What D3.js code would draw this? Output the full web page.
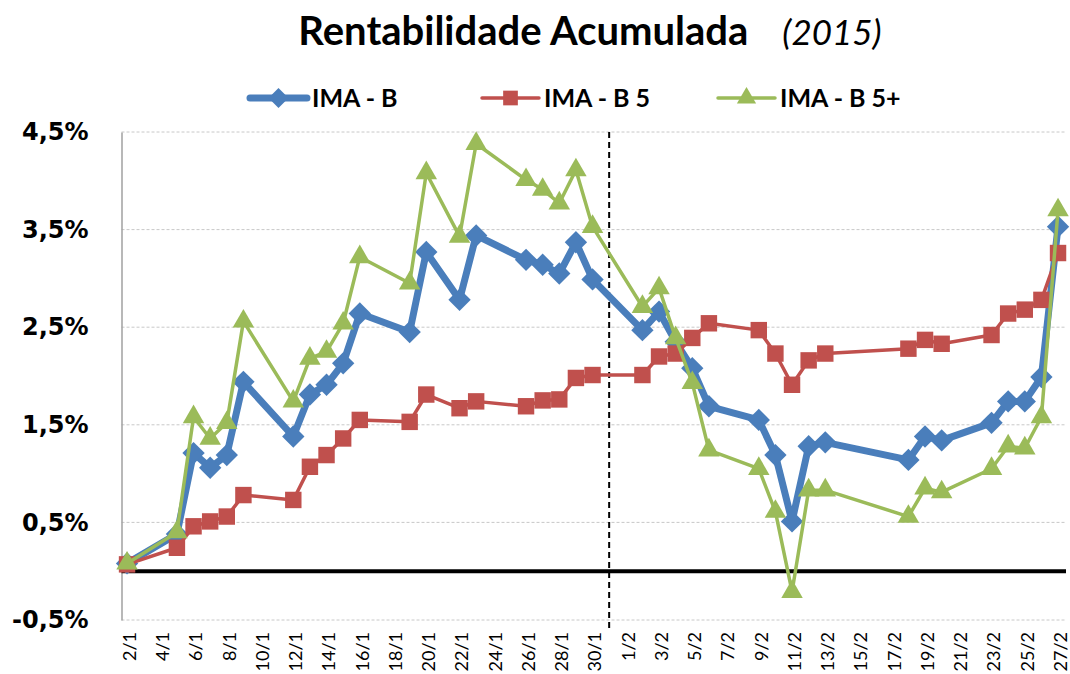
<!DOCTYPE html>
<html>
<head>
<meta charset="utf-8">
<script src="https://cdn.jsdelivr.net/npm/d3@7"></script>
<style>
  body { margin: 0; background: #fff; }
  svg { display: block; }
</style>
</head>
<body>
<div id="grafico"></div>
<script>
// dados ------------------------------------------------------------
const datas = [
  "2015-01-02","2015-01-05","2015-01-06","2015-01-07","2015-01-08","2015-01-09",
  "2015-01-12","2015-01-13","2015-01-14","2015-01-15","2015-01-16",
  "2015-01-19","2015-01-20","2015-01-22","2015-01-23",
  "2015-01-26","2015-01-27","2015-01-28","2015-01-29","2015-01-30",
  "2015-02-02","2015-02-03","2015-02-04","2015-02-05","2015-02-06",
  "2015-02-09","2015-02-10","2015-02-11","2015-02-12","2015-02-13",
  "2015-02-18","2015-02-19","2015-02-20",
  "2015-02-23","2015-02-24","2015-02-25","2015-02-26","2015-02-27"
];
const imaB = [
  0.08, 0.38, 1.21, 1.06, 1.19, 1.94,
  1.38, 1.81, 1.91, 2.13, 2.64,
  2.45, 3.27, 2.78, 3.44,
  3.19, 3.14, 3.05, 3.37, 2.99,
  2.47, 2.66, 2.35, 2.08, 1.69,
  1.55, 1.19, 0.51, 1.28, 1.32,
  1.14, 1.38, 1.34,
  1.52, 1.74, 1.74, 1.99, 3.53
];
const imaB5 = [
  0.07, 0.24, 0.46, 0.51, 0.56, 0.78,
  0.73, 1.07, 1.19, 1.36, 1.55,
  1.53, 1.81, 1.67, 1.74,
  1.69, 1.75, 1.76, 1.98, 2.01,
  2.01, 2.20, 2.23, 2.39, 2.54,
  2.47, 2.23, 1.91, 2.16, 2.23,
  2.28, 2.37, 2.33,
  2.42, 2.64, 2.68, 2.78, 3.26
];
const imaB5mais = [
  0.08, 0.40, 1.58, 1.36, 1.52, 2.56,
  1.74, 2.18, 2.25, 2.54, 3.22,
  2.95, 4.08, 3.43, 4.38,
  4.01, 3.91, 3.77, 4.11, 3.53,
  2.71, 2.90, 2.39, 1.93, 1.24,
  1.05, 0.61, -0.21, 0.83, 0.83,
  0.56, 0.85, 0.81,
  1.05, 1.28, 1.26, 1.58, 3.70
];
const rotulosX = [
  "2/1","4/1","6/1","8/1","10/1","12/1","14/1","16/1","18/1","20/1",
  "22/1","24/1","26/1","28/1","30/1",
  "1/2","3/2","5/2","7/2","9/2","11/2","13/2","15/2","17/2","19/2",
  "21/2","23/2","25/2","27/2"
];
const ticksY = [-0.5, 0.5, 1.5, 2.5, 3.5, 4.5];
const divisaoMes = "31/1";

const series = [
  { nome: "IMA - B",    valores: imaB,      cor: "#4a7ebb", largura: 7,   simbolo: "losango" },
  { nome: "IMA - B 5",  valores: imaB5,     cor: "#c0504d", largura: 3.5, simbolo: "quadrado" },
  { nome: "IMA - B 5+", valores: imaB5mais, cor: "#9bbb59", largura: 3.5, simbolo: "triangulo" }
];

// medidas ----------------------------------------------------------
const W = 1070, H = 674;
const area = { esquerda: 121.5, direita: 1066, topo: 132, base: 620 };

const parseISO = d3.timeParse("%Y-%m-%d");
const parseDM = s => { const [d, m] = s.split("/"); return new Date(2015, +m - 1, +d); };

const svg = d3.select("#grafico")
  .append("svg")
    .attr("width", W)
    .attr("height", H);

// escalas ----------------------------------------------------------
const x = d3.scaleTime()
  .domain([new Date(2015, 0, 1, 16), new Date(2015, 1, 27, 11, 30)])
  .range([area.esquerda, area.direita]);

const y = d3.scaleLinear()
  .domain([-0.5, 4.5])
  .range([area.base, area.topo]);

// titulo -----------------------------------------------------------
const titulo = svg.append("text")
  .attr("x", 590).attr("y", 45)
  .attr("text-anchor", "middle")
  .style("font-family", "Lato, sans-serif")
  .style("font-size", "40px")
  .style("fill", "#000");
titulo.append("tspan").style("font-weight", "bold").text("Rentabilidade Acumulada");
titulo.append("tspan").attr("dx", 34).style("font-style", "italic").style("font-size", "35px").text("(2015)");

// grade horizontal -------------------------------------------------
svg.append("g")
  .selectAll("line")
  .data(ticksY)
  .join("line")
    .attr("x1", area.esquerda).attr("x2", area.direita)
    .attr("y1", d => y(d)).attr("y2", d => y(d))
    .attr("stroke", "#c8c8c8")
    .attr("stroke-width", 1)
    .attr("stroke-dasharray", "3,2");

// eixo Y -----------------------------------------------------------
const eixoY = svg.append("g")
  .attr("transform", `translate(${area.esquerda},0)`)
  .call(d3.axisLeft(y).tickValues(ticksY).tickSize(0).tickPadding(33)
    .tickFormat(d => d3.format(".1f")(d).replace("−", "-").replace(".", ",") + "%"));
eixoY.select(".domain").attr("stroke", "#a0a0a0").attr("stroke-width", 1.5);
eixoY.selectAll("text")
  .style("font-family", "'DejaVu Sans', sans-serif")
  .style("font-weight", "bold")
  .style("font-size", "24px")
  .attr("fill", "#000");

// eixo X (rotulos) -------------------------------------------------
const eixoX = svg.append("g")
  .attr("transform", `translate(0,${area.base})`)
  .call(d3.axisBottom(x).tickValues(rotulosX.map(parseDM)).tickSize(0)
    .tickFormat((d, i) => rotulosX[i]));
eixoX.select(".domain").remove();
eixoX.selectAll("text")
  .style("font-family", "Lato, sans-serif")
  .style("font-size", "18px")
  .attr("fill", "#000")
  .attr("transform", "rotate(-90)")
  .attr("x", -12)
  .attr("y", 2)
  .attr("dy", "0.35em")
  .style("text-anchor", "end");

// linha do zero ----------------------------------------------------
svg.append("line")
  .attr("x1", area.esquerda).attr("x2", area.direita)
  .attr("y1", y(0)).attr("y2", y(0))
  .attr("stroke", "#000")
  .attr("stroke-width", 4);

// divisao jan/fev --------------------------------------------------
svg.append("line")
  .attr("x1", x(parseDM(divisaoMes))).attr("x2", x(parseDM(divisaoMes)))
  .attr("y1", area.topo).attr("y2", area.base + 10)
  .attr("stroke", "#000")
  .attr("stroke-width", 2)
  .attr("stroke-dasharray", "6,4");

// simbolos ---------------------------------------------------------
function desenhaSimbolo(g, tipo, cor, escala = 1) {
  if (tipo === "losango") {
    g.append("path")
      .attr("d", d3.symbol(d3.symbolSquare, 250 * escala)())
      .attr("transform", "rotate(45)")
      .attr("fill", cor);
  } else if (tipo === "quadrado") {
    g.append("path")
      .attr("d", d3.symbol(d3.symbolSquare, 270 * escala)())
      .attr("fill", cor);
  } else {
    g.append("path")
      .attr("d", d3.symbol(d3.symbolTriangle, 200 * escala)())
      .attr("fill", cor);
  }
}

// series -----------------------------------------------------------
const linha = d3.line()
  .x(d => x(d.data))
  .y(d => y(d.valor));

series.forEach(s => {
  const pontos = datas.map((d, i) => ({ data: parseISO(d), valor: s.valores[i] }));
  const g = svg.append("g").attr("class", "serie");
  g.append("path")
    .datum(pontos)
    .attr("fill", "none")
    .attr("stroke", s.cor)
    .attr("stroke-width", s.largura)
    .attr("stroke-linejoin", "round")
    .attr("d", linha);
  g.selectAll(".marcador")
    .data(pontos)
    .join("g")
      .attr("class", "marcador")
      .attr("transform", d => `translate(${x(d.data)},${y(d.valor)})`)
      .each(function() { desenhaSimbolo(d3.select(this), s.simbolo, s.cor); });
});

// legenda ----------------------------------------------------------
const posLegenda = [250, 482, 718];
const legenda = svg.append("g")
  .selectAll("g")
  .data(series)
  .join("g")
    .attr("transform", (d, i) => `translate(${posLegenda[i]},98)`);
legenda.append("line")
  .attr("x1", 0).attr("x2", 57)
  .attr("stroke", d => d.cor)
  .attr("stroke-width", d => d.largura)
  .attr("stroke-linecap", "round");
legenda.each(function(d) {
  const m = d3.select(this).append("g").attr("transform", "translate(28.5,0)");
  desenhaSimbolo(m, d.simbolo, d.cor, 0.8);
});
legenda.append("text")
  .attr("x", 62)
  .attr("dy", "0.36em")
  .style("font-family", "Lato, sans-serif")
  .style("font-weight", "bold")
  .style("font-size", "25px")
  .text(d => d.nome);
</script>
</body>
</html>
